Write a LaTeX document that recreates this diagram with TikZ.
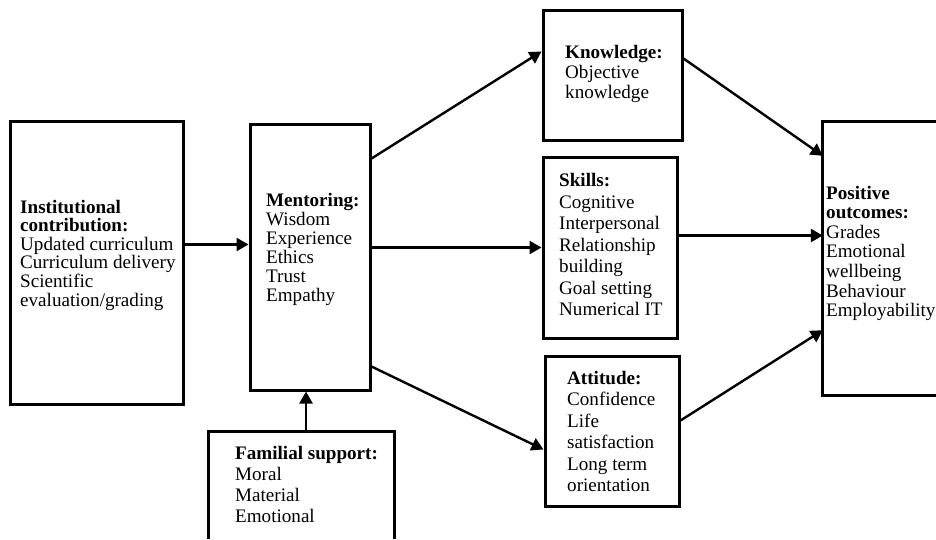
\documentclass[tikz,border=0pt]{standalone}
\usepackage{fontspec}
\setmainfont{Liberation Serif}
\usetikzlibrary{arrows.meta,calc}
\newcommand\tline[1]{\hbox{#1}}
\newcommand\txtblock[2]{\vtop{\baselineskip=#1pt\relax\lineskiplimit=-10pt\relax #2}}
\tikzset{
  boxnode/.style={draw, line width=3pt, inner sep=0pt},
  openbox/.style={line width=3pt},
  blanknode/.style={inner sep=0pt},
  txtnode/.style={anchor=base west, inner sep=0pt, font=\fontsize{19.1}{19}\selectfont},
  arr/.style={line width=2.4pt, -{Triangle[length=12pt,width=13pt]}}
}
\begin{document}
\begin{tikzpicture}[x=1pt,y=-1pt]
\useasboundingbox (0,0) rectangle (936,539);
% boxes
\node[boxnode, minimum width=173pt, minimum height=283pt] (inst) at (96.5,262.5) {};
\node[boxnode, minimum width=120pt, minimum height=266pt] (mentor) at (310,257) {};
\node[boxnode, minimum width=139pt, minimum height=130pt] (know) at (612.5,75) {};
\node[boxnode, minimum width=134pt, minimum height=181pt] (skills) at (610,247.5) {};
\node[boxnode, minimum width=134pt, minimum height=150pt] (att) at (612,431) {};
\node[blanknode, minimum width=113pt, minimum height=273pt] (outcome) at (879.5,258.5) {};
\draw[openbox] (outcome.north east) -- (outcome.north west) -- (outcome.south west) -- (outcome.south east);
\node[blanknode, minimum width=185pt, minimum height=107pt] (family) at (301.5,485.5) {};
\draw[openbox] (family.south west) -- (family.north west) -- (family.north east) -- (family.south east);
% texts
\node[txtnode] (insttxt) at (20,213) {\txtblock{18.6}{\tline{\textbf{Institutional}}\tline{\textbf{contribution:}}\tline{Updated curriculum}\tline{Curriculum delivery}\tline{Scientific}\tline{evaluation/grading}}};
\node[txtnode] (mentortxt) at (266,206) {\txtblock{19.1}{\tline{\textbf{Mentoring:}}\tline{Wisdom}\tline{Experience}\tline{Ethics}\tline{Trust}\tline{Empathy}}};
\node[txtnode] (knowtxt) at (565,58) {\txtblock{20}{\tline{\textbf{Knowledge:}}\tline{Objective}\tline{knowledge}}};
\node[txtnode] (skillstxt) at (559,186.5) {\txtblock{21.5}{\tline{\textbf{Skills:}}\tline{Cognitive}\tline{Interpersonal}\tline{Relationship}\tline{building}\tline{Goal setting}\tline{Numerical IT}}};
\node[txtnode] (atttxt) at (567,384) {\txtblock{21.5}{\tline{\textbf{Attitude:}}\tline{Confidence}\tline{Life}\tline{satisfaction}\tline{Long term}\tline{orientation}}};
\node[txtnode] (outtxt) at (826,199) {\txtblock{19.6}{\tline{\textbf{Positive}}\tline{\textbf{outcomes:}}\tline{Grades}\tline{Emotional}\tline{wellbeing}\tline{Behaviour}\tline{Employability}}};
\node[txtnode] (famtxt) at (235,459) {\txtblock{21}{\tline{\textbf{Familial support:}}\tline{Moral}\tline{Material}\tline{Emotional}}};
% connectors
\draw[arr] ($(inst.north east)+(0,125)$) coordinate (a1) -- (a1 -| mentor.west);
\draw[arr] ($(mentor.north east)+(0,36)$) -- ($(know.south west)+(0,-90)$);
\draw[arr] (skills.west -| mentor.east) -- (skills.west);
\draw[arr] ($(mentor.south east)+(0,-25)$) -- ($(att.north west)+(0,95)$);
\coordinate (m5) at ($(mentor.south)+(-4,0)$);
\draw[arr] (m5 |- family.north) -- (m5);
\draw[arr] ($(know.north east)+(0,50)$) -- ($(outcome.north west)+(0,34)$);
\draw[arr] ($(skills.north east)+(0,80)$) coordinate (a7) -- (a7 -| outcome.west);
\draw[arr] ($(att.north east)+(0,66)$) -- ($(outcome.south west)+(0,-65)$);
\end{tikzpicture}
\end{document}
